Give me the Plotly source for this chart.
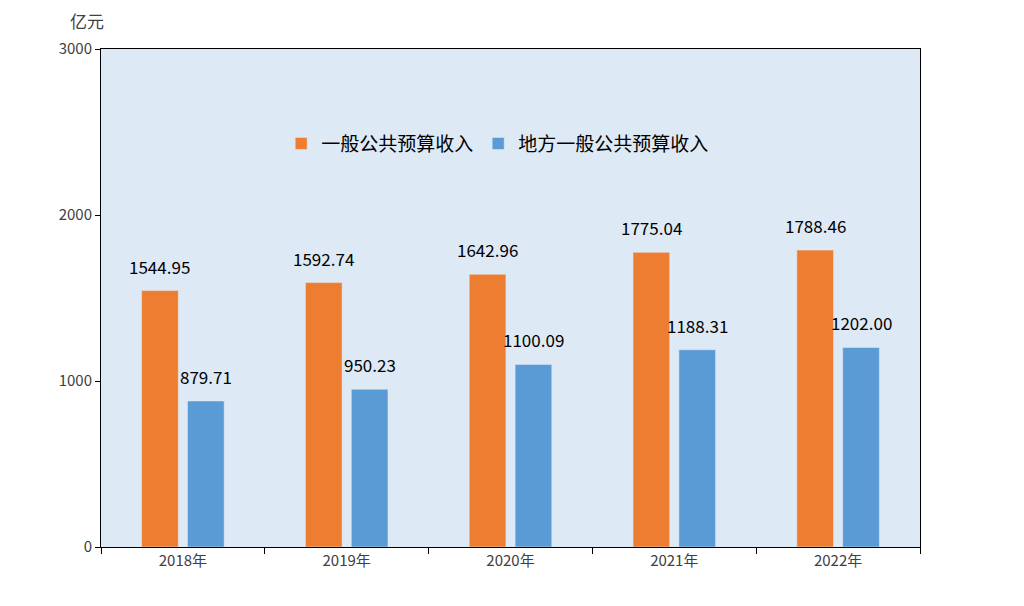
import plotly.graph_objects as go

years = ["2018年", "2019年", "2020年", "2021年", "2022年"]
general = [1544.95, 1592.74, 1642.96, 1775.04, 1788.46]
local = [879.71, 950.23, 1100.09, 1188.31, 1202.00]
names = ["一般公共预算收入", "地方一般公共预算收入"]

font = "Noto Sans CJK SC"
fig = go.Figure()
fig.add_bar(x=years, y=general, name=names[0], marker_color="#ed7d31")
fig.add_bar(x=years, y=local, name=names[1], marker_color="#5b9bd5")

# value labels above bars, lifted a bit like the original
for i, vals in enumerate([general, local]):
    for j, v in enumerate(vals):
        fig.add_annotation(x=j + (i - 0.5) * 0.28, y=v, text="%.2f" % v,
                           showarrow=False, yanchor="bottom", yshift=10,
                           font=dict(size=17, color="black"))

fig.add_annotation(text="亿元", x=0, y=1, xref="paper", yref="paper",
                   xshift=-33, yshift=29, yanchor="middle", showarrow=False,
                   font=dict(size=17, color="#404040"))

fig.update_layout(
    width=1024, height=606,
    margin=dict(l=93, r=112, t=41, b=67, autoexpand=False),
    paper_bgcolor="white", plot_bgcolor="#dde9f5",
    font=dict(family=font, size=14, color="#404040"),
    barmode="group", bargap=0.44, bargroupgap=0.2,
    legend=dict(orientation="h", x=0.22, y=0.81, xanchor="left", yanchor="middle",
                bgcolor="rgba(0,0,0,0)", font=dict(size=19, color="black")),
)
fig.update_xaxes(showline=True, linecolor="black", mirror=True, ticks="outside",
                 tickson="boundaries", ticklen=6, tickcolor="black", automargin=False,
                 tickfont=dict(size=15))
fig.update_yaxes(range=[0, 3000], dtick=1000, showgrid=False, showline=True,
                 linecolor="black", mirror=True, ticks="outside", ticklen=5,
                 tickcolor="black", zeroline=False, automargin=False,
                 tickfont=dict(size=15))

fig.write_html("out.html")
